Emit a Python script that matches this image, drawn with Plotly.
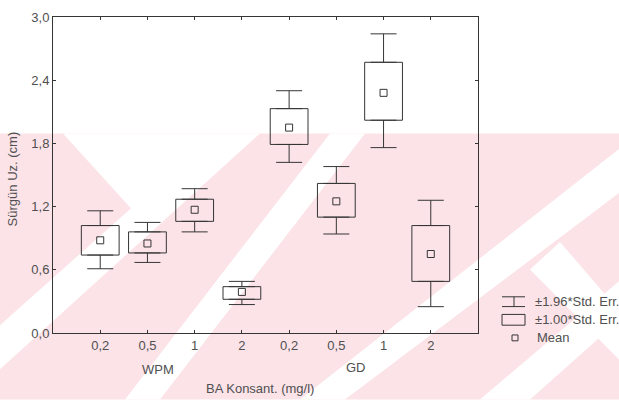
import plotly.graph_objects as go

# ---------------- data ----------------
positions = [1, 2, 3, 4, 5, 6, 7, 8]
tick_labels = ["0,2", "0,5", "1", "2", "0,2", "0,5", "1", "2"]
means = [0.88, 0.85, 1.17, 0.39, 1.95, 1.25, 2.28, 0.75]
se1_low = [0.74, 0.76, 1.06, 0.32, 1.79, 1.10, 2.02, 0.49]
se1_high = [1.02, 0.96, 1.27, 0.44, 2.13, 1.42, 2.57, 1.02]
se196_low = [0.61, 0.67, 0.96, 0.27, 1.62, 0.94, 1.76, 0.25]
se196_high = [1.16, 1.05, 1.37, 0.49, 2.30, 1.58, 2.84, 1.26]
y_ticks = [0.0, 0.6, 1.2, 1.8, 2.4, 3.0]
y_tick_labels = ["0,0", "0,6", "1,2", "1,8", "2,4", "3,0"]

W, H = 619, 401
ML, MR, MT, MB = 53, 141, 10, 68
PW, PH = W - ML - MR, H - MT - MB

def px(x, y):
    return (x - ML) / PW, (H - MB - y) / PH

LINE = "#353535"
TXT = "#505050"
PINK = "#fbe3e8"
FONT = "Liberation Sans"
FS = 13

fig = go.Figure()

# ±1.00*SE boxes
fig.add_trace(go.Bar(
    x=positions, base=se1_low,
    y=[h - l for h, l in zip(se1_high, se1_low)],
    width=0.8, marker=dict(color="rgba(0,0,0,0)", line=dict(color=LINE, width=1)),
    showlegend=False, hoverinfo="skip",
))
# ±1.96*SE whiskers (upper and lower)
fig.add_trace(go.Scatter(
    x=positions, y=se1_high, mode="none",
    error_y=dict(type="data", symmetric=False,
                 array=[t - h for t, h in zip(se196_high, se1_high)],
                 arrayminus=[0] * len(positions),
                 color=LINE, thickness=1, width=13),
    showlegend=False, hoverinfo="skip",
))
fig.add_trace(go.Scatter(
    x=positions, y=se1_low, mode="none",
    error_y=dict(type="data", symmetric=False,
                 array=[0] * len(positions),
                 arrayminus=[l - b for l, b in zip(se1_low, se196_low)],
                 color=LINE, thickness=1, width=13),
    showlegend=False, hoverinfo="skip",
))
# means
fig.add_trace(go.Scatter(
    x=positions, y=means, mode="markers",
    marker=dict(symbol="square-open", size=7, color=LINE, line=dict(width=1)),
    showlegend=False, hoverinfo="skip",
))

shapes = []
# watermark (pink background with white stripes)
def poly(pts, color):
    pp = [px(x, y) for x, y in pts]
    path = "M " + " L ".join(f"{a:.4f},{b:.4f}" for a, b in pp) + " Z"
    return dict(type="path", xref="paper", yref="paper", path=path,
                fillcolor=color, line=dict(width=0), layer="below")

shapes.append(poly([(0, 129), (W, 129), (W, H), (0, H)], PINK))
white_polys = [
    [(63, 129), (215, 129), (135, 210)],
    [(0, 325), (0, 370), (260, 129), (215, 129)],
    [(125, 401), (160, 401), (365, 129), (330, 129)],
    [(300, 401), (345, 401), (619, 190), (619, 145)],
    [(480, 401), (530, 401), (619, 320), (619, 280)],
    [(530, 268), (560, 240), (619, 310), (619, 360)],
]
for p in white_polys:
    shapes.append(poly(p, "white"))

# legend glyphs
def seg(x0, y0, x1, y1):
    a0, b0 = px(x0, y0); a1, b1 = px(x1, y1)
    return dict(type="line", xref="paper", yref="paper", x0=a0, y0=b0, x1=a1, y1=b1,
                line=dict(color=LINE, width=1))

shapes += [seg(502, 296, 525, 296), seg(514, 296, 514, 306), seg(502, 306, 525, 306)]
a0, b0 = px(502, 314); a1, b1 = px(525, 325)
shapes.append(dict(type="rect", xref="paper", yref="paper", x0=a0, y0=b0, x1=a1, y1=b1,
                   line=dict(color=LINE, width=1)))
a0, b0 = px(512, 335); a1, b1 = px(518, 341)
shapes.append(dict(type="rect", xref="paper", yref="paper", x0=a0, y0=b0, x1=a1, y1=b1,
                   line=dict(color=LINE, width=1)))

annotations = []
def txt(x, y, s, anchor="center", size=FS, angle=0):
    a, b = px(x, y)
    annotations.append(dict(x=a, y=b, xref="paper", yref="paper", text=s, showarrow=False,
                            xanchor=anchor, yanchor="middle", textangle=angle,
                            font=dict(family=FONT, size=size, color=TXT)))

txt(533, 301, "±1.96*Std. Err.", "left")
txt(533, 319, "±1.00*Std. Err.", "left")
txt(535, 338, "Mean", "left")
txt(158, 370, "WPM")
txt(356, 368, "GD")
txt(260, 390, "BA Konsant. (mg/l)")
txt(12, 176, "Sürgün Uz. (cm)", "center", FS, -90)

fig.update_layout(
    width=W, height=H, margin=dict(l=ML, r=MR, t=MT, b=MB),
    paper_bgcolor="white", plot_bgcolor="rgba(0,0,0,0)",
    shapes=shapes, annotations=annotations, barmode="overlay",
    font=dict(family=FONT, size=FS, color=TXT),
)
fig.update_xaxes(range=[0, 9], tickvals=positions, ticktext=tick_labels,
                 showgrid=False, zeroline=False, showline=True, linecolor=LINE, linewidth=1,
                 mirror="ticks", ticks="inside", ticklen=3, tickcolor=LINE,
                 tickfont=dict(family=FONT, size=FS, color=TXT))
fig.update_yaxes(range=[0, 3], tickvals=y_ticks, ticktext=y_tick_labels,
                 showgrid=False, zeroline=False, showline=True, linecolor=LINE, linewidth=1,
                 mirror="ticks", ticks="inside", ticklen=3, tickcolor=LINE,
                 tickfont=dict(family=FONT, size=FS, color=TXT))

fig.write_html("out.html")
